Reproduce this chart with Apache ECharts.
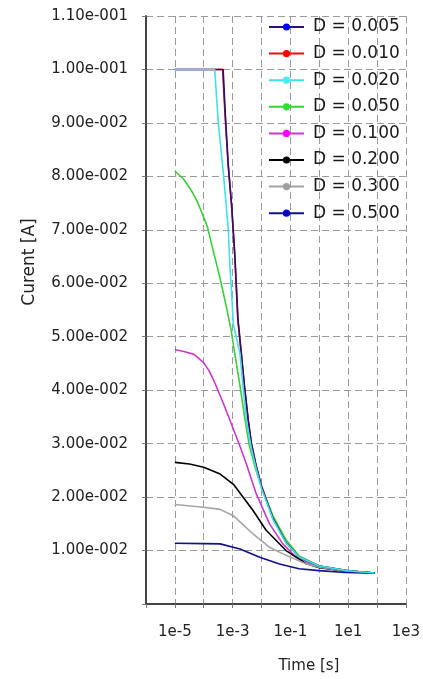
<!DOCTYPE html>
<html>
<head>
<meta charset="utf-8">
<script src="https://cdn.jsdelivr.net/npm/echarts@6/dist/echarts.min.js"></script>
<style>
html,body{margin:0;padding:0;background:#fff;}
#chart{width:423px;height:679px;}
</style>
</head>
<body>
<div id="chart"></div>
<script>
// Legend / series names
const seriesNames = ['D = 0.005','D = 0.010','D = 0.020','D = 0.050','D = 0.100','D = 0.200','D = 0.300','D = 0.500'];

// [time (s), current (A)]
const d005 = [[1e-5,0.1],[4.7e-4,0.1],[5.6e-4,0.0915],[7.1e-4,0.082],[9.3e-4,0.0745],[1.2e-3,0.065],[1.55e-3,0.053],[2.0e-3,0.047],[2.6e-3,0.0406],[3.5e-3,0.0343],[4.5e-3,0.030],[6.6e-3,0.0258],[1e-2,0.0220],[2.5e-2,0.0160],[7.1e-2,0.0115],[0.2,0.0088],[1,0.0071],[10,0.0062],[83,0.0058]];
const d010 = [[1e-5,0.1],[4.5e-4,0.1],[5.4e-4,0.092],[7.0e-4,0.0822],[9.1e-4,0.0748],[1.18e-3,0.0655],[1.5e-3,0.0535],[1.95e-3,0.0472],[2.55e-3,0.0408],[3.45e-3,0.0345],[4.4e-3,0.0302],[6.5e-3,0.0259],[1e-2,0.0221],[2.5e-2,0.0161],[7.1e-2,0.0115],[0.2,0.0088],[1,0.0071],[10,0.0062],[83,0.0058]];
const d020 = [[1e-5,0.1],[2.4e-4,0.1],[3.2e-4,0.090],[4.8e-4,0.0805],[7.1e-4,0.070],[8.1e-4,0.063],[9.3e-4,0.058],[1.05e-3,0.0525],[1.8e-3,0.0468],[2.3e-3,0.0406],[3.0e-3,0.0343],[4.5e-3,0.029],[6.6e-3,0.0252],[1e-2,0.0216],[2.5e-2,0.0158],[7.1e-2,0.0114],[0.2,0.0088],[1,0.0071],[10,0.0062],[83,0.0058]];
const d050 = [[1e-5,0.0810],[2e-5,0.0795],[3.5e-5,0.0776],[5.5e-5,0.0757],[7.8e-5,0.0738],[1.35e-4,0.0705],[2.1e-4,0.0662],[3.7e-4,0.0609],[5.9e-4,0.0559],[8.9e-4,0.0512],[1.2e-3,0.0467],[1.8e-3,0.0408],[2.6e-3,0.0350],[3.8e-3,0.0296],[6.3e-3,0.0252],[1e-2,0.0218],[2.5e-2,0.0165],[7.1e-2,0.0120],[0.2,0.0090],[1,0.0071],[10,0.0062],[83,0.0058]];
const d100 = [[1e-5,0.0476],[2.2e-5,0.0472],[4.6e-5,0.0467],[6.3e-5,0.0461],[1e-4,0.0451],[1.5e-4,0.0437],[2.2e-4,0.0419],[3.2e-4,0.0398],[4.8e-4,0.0375],[1.05e-3,0.0328],[1.8e-3,0.0295],[3.0e-3,0.0262],[6.6e-3,0.0206],[1.9e-2,0.0150],[5.4e-2,0.0113],[0.155,0.0088],[1,0.0069],[10,0.0061],[83,0.0058]];
const d200 = [[1e-5,0.0265],[3.2e-5,0.0262],[1e-4,0.0256],[3.7e-4,0.0243],[1.07e-3,0.0224],[5.1e-3,0.0175],[1.45e-2,0.0138],[7.1e-2,0.0100],[0.34,0.0076],[1,0.0068],[10,0.0061],[83,0.0058]];
const d300 = [[1e-5,0.0186],[1e-4,0.0181],[3.7e-4,0.0177],[1.07e-3,0.0165],[5.1e-3,0.0131],[1.9e-2,0.0106],[7.1e-2,0.0091],[0.32,0.0076],[1,0.0069],[10,0.0061],[83,0.0058]];
const d500 = [[1e-5,0.01137],[1e-4,0.0113],[3.7e-4,0.01125],[1.8e-3,0.0103],[8.7e-3,0.00875],[4.2e-2,0.0075],[0.2,0.0066],[1,0.00625],[8,0.0059],[83,0.00575]];

const seriesData = [d005,d010,d020,d050,d100,d200,d300,d500];
const lineColors = ['#2a1070','#e81010','#40e0ea','#3ccc3c','#c83ac8','#000000','#a4a4a4','#10108a'];
const markColors = ['#0000ff','#ff0000','#40f0f0','#33dd33','#ff00ff','#000000','#a0a0a0','#0000c8'];
const seriesZ = [3,2,4,2,2,2,2,2];

const yMin = 0, yMax = 0.11, yStep = 0.01;
const xMin = 1e-6, xMax = 1e3;

function fmtY(v){
  if (Math.abs(v) < 1e-12) return '';
  const e = Math.floor(Math.log10(Math.abs(v)) + 1e-9);
  const m = v / Math.pow(10, e);
  const sign = e < 0 ? '-' : '+';
  return m.toFixed(2) + 'e' + sign + String(Math.abs(e)).padStart(3,'0');
}
function fmtX(v){
  const e = Math.round(Math.log10(v));
  return (Math.abs(e) % 2 === 1) ? '1e' + e : '';
}

const chart = echarts.init(document.getElementById('chart'), null, {renderer:'canvas'});
const gridColor = '#9a9a9a';
chart.setOption({
  backgroundColor:'#ffffff',
  animation:false,
  grid:{left:146, right:15, top:16, bottom:75},
  legend:{
    data: seriesNames,
    orient:'vertical',
    left:268, top:18,
    padding:0,
    itemWidth:35, itemHeight:9,
    itemGap:8.6,
    textStyle:{fontFamily:'DejaVu Sans', fontSize:17, color:'#1a1a1a', lineHeight:18, padding:[0,0,0,4]}
  },
  xAxis:{
    type:'log', min:xMin, max:xMax, logBase:10, splitNumber:9,
    axisLine:{lineStyle:{color:'#444', width:2}},
    axisTick:{show:true, length:4, lineStyle:{color:'#777'}},
    axisLabel:{formatter:fmtX, fontFamily:'DejaVu Sans', fontSize:15, color:'#222', margin:21, showMinLabel:true, showMaxLabel:true},
    splitLine:{show:true, lineStyle:{color:gridColor, type:[7,4], width:1}},
    name:'Time [s]', nameLocation:'middle', nameGap:55,
    nameTextStyle:{fontFamily:'DejaVu Sans', fontSize:15, color:'#222', padding:[0,0,0,66]}
  },
  yAxis:{
    type:'value', min:yMin, max:yMax, interval:yStep,
    axisLine:{show:true, lineStyle:{color:'#444', width:2}},
    axisTick:{show:true, length:4, lineStyle:{color:'#777'}},
    axisLabel:{formatter:fmtY, fontFamily:'DejaVu Sans', fontSize:15, color:'#222', margin:18},
    splitLine:{show:true, lineStyle:{color:gridColor, type:[7,4], width:1}},
    name:'Curent [A]', nameLocation:'middle', nameGap:108,
    nameTextStyle:{fontFamily:'DejaVu Sans', fontSize:17, color:'#222', padding:[0,0,0,96]}
  },
  series: seriesData.map((d,i)=>({
    name: seriesNames[i],
    type:'line',
    data:d,
    symbol:'circle',
    showSymbol:false,
    smooth:false,
    lineStyle:{color:lineColors[i], width:1.6},
    itemStyle:{color:markColors[i]},
    z: seriesZ[i]
  }))
});
</script>
</body>
</html>
